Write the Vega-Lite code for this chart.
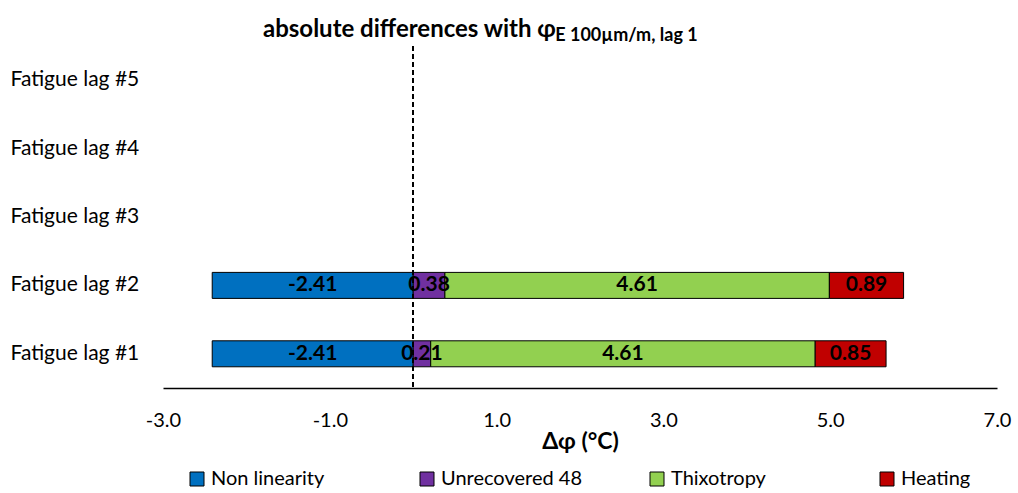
{
  "$schema": "https://vega.github.io/schema/vega-lite/v6.json",
  "width": 834,
  "height": 342,
  "padding": {"left": 10, "top": 18, "right": 5, "bottom": 0},
  "background": "white",
  "title": {
    "text": "absolute differences with φ",
    "subtitle": "\u200b\u2003\u2003\u2003\u2003\u2003\u2003\u2003\u2003\u2003\u2003\u2003\u2003\u2003\u2003\u2003\u2003\u2003\u2003\u2003\u2003\u2003\u00a0\u00a0E 100µm/m, lag 1",
    "anchor": "start",
    "dx": 253,
    "font": "Lato",
    "fontSize": 24,
    "fontWeight": "bold",
    "color": "black",
    "subtitleFont": "Lato",
    "subtitleFontSize": 18,
    "subtitleFontWeight": "bold",
    "subtitleColor": "black",
    "subtitlePadding": -15,
    "offset": 0
  },
  "data": {
    "values": [
      {"lag": "Fatigue lag #1", "component": "Non linearity", "value": -2.41, "order": 1},
      {"lag": "Fatigue lag #1", "component": "Unrecovered 48", "value": 0.21, "order": 2},
      {"lag": "Fatigue lag #1", "component": "Thixotropy", "value": 4.61, "order": 3},
      {"lag": "Fatigue lag #1", "component": "Heating", "value": 0.85, "order": 4},
      {"lag": "Fatigue lag #2", "component": "Non linearity", "value": -2.41, "order": 1},
      {"lag": "Fatigue lag #2", "component": "Unrecovered 48", "value": 0.38, "order": 2},
      {"lag": "Fatigue lag #2", "component": "Thixotropy", "value": 4.61, "order": 3},
      {"lag": "Fatigue lag #2", "component": "Heating", "value": 0.89, "order": 4}
    ]
  },
  "layer": [
    {
      "mark": {"type": "bar", "stroke": "black", "strokeWidth": 1},
      "encoding": {
        "y": {
          "field": "lag",
          "type": "nominal",
          "scale": {
            "domain": ["Fatigue lag #5", "Fatigue lag #4", "Fatigue lag #3", "Fatigue lag #2", "Fatigue lag #1"],
            "paddingInner": 0.62,
            "paddingOuter": 0.31
          },
          "axis": {
            "title": null,
            "domain": false,
            "ticks": false,
            "grid": false,
            "labelAlign": "left",
            "labelPadding": 153,
            "labelFont": "Lato",
            "labelFontSize": 21,
            "labelColor": "black"
          }
        },
        "x": {
          "field": "value",
          "type": "quantitative",
          "stack": "zero",
          "scale": {"domain": [-3, 7], "nice": false, "zero": false},
          "axis": {
            "title": "Δφ (°C)",
            "titleFont": "Lato",
            "titleFontSize": 23,
            "titleFontWeight": "bold",
            "titleColor": "black",
            "titlePadding": 0,
            "labelFont": "Lato",
            "labelFontSize": 20,
            "labelColor": "black",
            "labelPadding": 22,
            "labelFlush": false,
            "ticks": false,
            "grid": false,
            "domainColor": "black",
            "domainWidth": 1.5,
            "values": [-3, -1, 1, 3, 5, 7],
            "format": ".1f"
          }
        },
        "color": {
          "field": "component",
          "type": "nominal",
          "scale": {
            "domain": ["Non linearity", "Unrecovered 48", "Thixotropy", "Heating"],
            "range": ["#0070C0", "#7030A0", "#92D050", "#C00000"]
          },
          "legend": {
            "orient": "none",
            "legendX": 24,
            "legendY": 423,
            "direction": "horizontal",
            "title": null,
            "symbolType": "square",
            "symbolSize": 196,
            "symbolStrokeColor": "black",
            "symbolStrokeWidth": 1,
            "labelFont": "Lato",
            "labelFontSize": 20,
            "labelColor": "black",
            "labelOffset": 4,
            "gridAlign": "all",
            "columnPadding": 65
          }
        },
        "order": {"field": "order", "type": "quantitative"}
      }
    },
    {
      "mark": {"type": "text", "font": "Lato", "fontSize": 21, "fontWeight": "bold", "color": "black"},
      "encoding": {
        "y": {"field": "lag", "type": "nominal"},
        "x": {"field": "value", "type": "quantitative", "stack": "zero", "bandPosition": 0.5},
        "detail": {"field": "component"},
        "order": {"field": "order", "type": "quantitative"},
        "text": {"field": "value", "type": "quantitative", "format": ".2f"}
      }
    },
    {
      "mark": {"type": "rule", "strokeDash": [5, 3], "color": "black", "strokeWidth": 1.5},
      "encoding": {"x": {"datum": 0}}
    }
  ],
  "config": {
    "view": {"stroke": null},
    "locale": {
      "number": {"decimal": ".", "thousands": ",", "grouping": [3], "currency": ["$", ""], "minus": "-"}
    }
  }
}
